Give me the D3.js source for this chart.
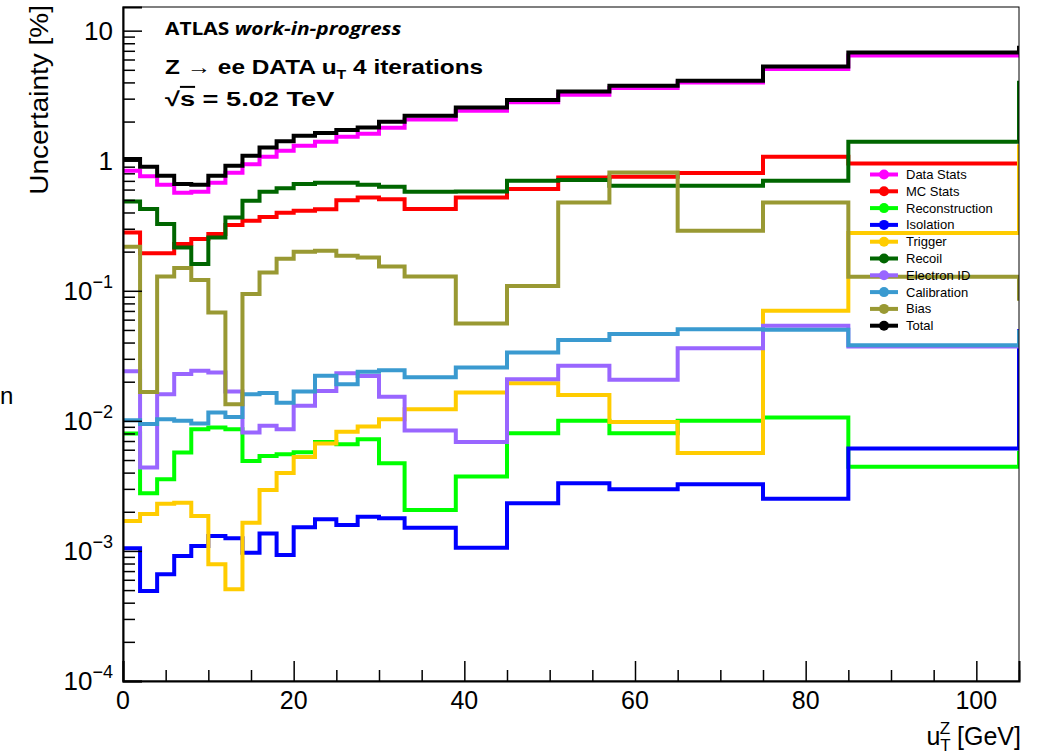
<!DOCTYPE html>
<html>
<head>
<meta charset="utf-8">
<script src="https://cdn.jsdelivr.net/npm/d3@7"></script>
<style>
  body { margin: 0; background: #fff; }
  text { font-family: "Liberation Sans", Arial, sans-serif; }
</style>
</head>
<body>
<div class="plot"></div>
<script>

// bin edges in u_T [GeV]; last value of every series is the overflow bin beyond 105
const binEdges = [0,2,4,6,8,10,12,14,16,18,20,22.5,25,27.5,30,33,39,45,51,57,65,75,85,105];

const dataStats      = [0.838,0.760,0.654,0.567,0.578,0.677,0.809,0.940,1.073,1.194,1.304,1.40,1.53,1.61,1.79,2.07,2.42,2.81,3.22,3.62,4.00,5.08,6.43,7.2];
const mcStats        = [0.281,0.194,0.194,0.229,0.250,0.273,0.320,0.345,0.369,0.398,0.413,0.424,0.497,0.522,0.506,0.425,0.522,0.606,0.744,0.753,0.804,1.073,0.953,0.95];
const reconstruction = [0.00798,0.00278,0.00356,0.0057,0.00863,0.00888,0.00863,0.00492,0.00538,0.00554,0.00573,0.00689,0.00662,0.00721,0.00473,0.00206,0.00373,0.00804,0.0100,0.00804,0.0100,0.0106,0.00443,0.0059];
const isolation      = [0.00105,0.000492,0.000662,0.000916,0.00109,0.0013,0.00125,0.00097,0.00136,0.00093,0.00152,0.00175,0.00158,0.00183,0.00178,0.00151,0.00106,0.00233,0.00332,0.00298,0.00326,0.00252,0.00612,0.0507];
const trigger        = [0.0017,0.00192,0.00231,0.00235,0.00186,0.00079,0.000508,0.00165,0.00294,0.00398,0.00528,0.00671,0.00823,0.00907,0.01028,0.0123,0.0165,0.0195,0.0158,0.0098,0.00565,0.0702,0.278,1.34];
const recoil         = [0.486,0.425,0.326,0.215,0.161,0.257,0.366,0.492,0.577,0.615,0.662,0.677,0.677,0.654,0.631,0.577,0.581,0.702,0.711,0.642,0.642,0.702,1.40,4.12];
const electronId     = [0.0241,0.00438,0.016,0.0229,0.0243,0.0235,0.0168,0.00813,0.00916,0.00863,0.01304,0.017,0.0232,0.0221,0.0153,0.00845,0.00689,0.0209,0.0265,0.0207,0.0362,0.0538,0.0373,0.037];
const calibration    = [0.0101,0.00944,0.0103,0.0100,0.00953,0.0116,0.0107,0.016,0.0164,0.0138,0.0168,0.0222,0.0191,0.0239,0.0245,0.0216,0.0257,0.0336,0.0418,0.0465,0.0507,0.0501,0.0382,0.05];
const bias           = [0.218,0.0167,0.129,0.1495,0.121,0.068,0.01344,0.0943,0.138,0.176,0.1995,0.203,0.186,0.180,0.154,0.129,0.056,0.109,0.478,0.813,0.289,0.478,0.128,0.0838];
const total          = [1.03,0.899,0.767,0.662,0.654,0.767,0.915,1.093,1.266,1.41,1.556,1.63,1.72,1.80,1.995,2.22,2.57,2.93,3.41,3.77,4.12,5.3,6.8,7.67];

const seriesNames  = ["Data Stats","MC Stats","Reconstruction","Isolation","Trigger","Recoil","Electron ID","Calibration","Bias","Total"];
const seriesColors = ["#ff00ff","#ff0000","#00ff00","#0000ff","#ffcc00","#006600","#9966ff","#3a9ad0","#999933","#000000"];

const xTicks = [0,20,40,60,80,100];
const yDecades = [-4,-3,-2,-1,0,1];


function createPlot(){

  const width = 1040;
  const height = 754;
  const frame = {left: 123, right: 1019, top: 7, bottom: 681};

  const seriesValues = [dataStats,mcStats,reconstruction,isolation,trigger,recoil,electronId,calibration,bias,total];
  const series = seriesNames.map((name,i) => ({name: name, color: seriesColors[i], values: seriesValues[i]}));

  const xScale = d3.scaleLinear()
    .domain([0,105])
    .range([frame.left, frame.right]);

  const yScale = d3.scaleLog()
    .domain([1e-4, 15.2])
    .range([frame.bottom, frame.top]);

  const svg = d3.select('.plot')
    .append('svg')
    .attr('width', width)
    .attr('height', height);

  svg.append('clipPath')
    .attr('id','clip')
    .append('rect')
    .attr('x', frame.left)
    .attr('y', frame.top)
    .attr('width', frame.right-frame.left)
    .attr('height', frame.bottom-frame.top);

  //Histograms as step lines
  const stepLine = d3.line()
    .x(d => xScale(d.x))
    .y(d => yScale(d.v))
    .curve(d3.curveStepAfter);

  const gHist = svg.append('g').attr('clip-path','url(#clip)');

  series.forEach(function(s){
    const pts = binEdges.map((e,i) => ({x: e, v: s.values[i]}));
    gHist.append('path')
      .attr('d', stepLine(pts))
      .attr('fill','none')
      .attr('stroke', s.color)
      .attr('stroke-width', 4)
      .attr('stroke-linejoin','miter');
  });

  //Frame
  svg.append('rect')
    .attr('x', frame.left)
    .attr('y', frame.top)
    .attr('width', frame.right-frame.left)
    .attr('height', frame.bottom-frame.top)
    .attr('fill','none')
    .attr('stroke','black')
    .attr('stroke-width',1);

  //Y axis, ticks pointing inside
  const yMinor = [];
  for (let e = -4; e <= 1; e++) {
    for (let m = 2; m <= 9; m++) {
      const v = m*Math.pow(10,e);
      if (v < 15.2) yMinor.push(v);
    }
  }
  svg.append('g')
    .attr('transform',`translate(${frame.left},0)`)
    .call(d3.axisLeft(yScale).tickValues(yMinor).tickSize(-12).tickFormat(''))
    .call(g => g.select('.domain').remove())
    .selectAll('line').attr('stroke','black').attr('stroke-width',1.5);

  svg.append('g')
    .attr('transform',`translate(${frame.left},0)`)
    .call(d3.axisLeft(yScale).tickValues(yDecades.map(e => Math.pow(10,e))).tickSize(-19).tickFormat(''))
    .call(g => g.select('.domain').attr('stroke-width',2))
    .selectAll('line').attr('stroke','black').attr('stroke-width',1.5);

  //Y tick labels with exponents
  yDecades.forEach(function(e){
    const t = svg.append('text')
      .attr('x', 113)
      .attr('y', yScale(Math.pow(10,e)) + 9)
      .attr('text-anchor','end')
      .attr('font-size', 26);
    if (e === 0) t.text('1');
    else if (e === 1) t.text('10');
    else {
      t.append('tspan').text('10');
      t.append('tspan').attr('font-size',18).attr('dy',-12).text('\u2212' + (-e));
    }
  });

  //X axis, ticks pointing up
  const xMinor = d3.range(0,106,5).filter(v => v % 20 !== 0);
  svg.append('g')
    .attr('transform',`translate(0,${frame.bottom})`)
    .call(d3.axisBottom(xScale).tickValues(xMinor).tickSize(-11).tickFormat(''))
    .call(g => g.select('.domain').remove())
    .selectAll('line').attr('stroke','black').attr('stroke-width',1.5);

  svg.append('g')
    .attr('transform',`translate(0,${frame.bottom})`)
    .call(d3.axisBottom(xScale).tickValues(xTicks).tickSize(-20).tickFormat(''))
    .call(g => g.select('.domain').attr('stroke-width',2))
    .selectAll('line').attr('stroke','black').attr('stroke-width',1.5);

  svg.selectAll('.xlabel')
    .data(xTicks)
    .enter()
    .append('text')
    .attr('class','xlabel')
    .attr('x', d => xScale(d))
    .attr('y', 709)
    .attr('text-anchor','middle')
    .attr('font-size', 25)
    .text(d => d);

  //Axis titles
  const xt = svg.append('text')
    .attr('x', 1021)
    .attr('y', 745)
    .attr('text-anchor','end')
    .attr('font-size', 25);
  xt.append('tspan').text('u');
  xt.append('tspan').attr('font-size',17).attr('dy',6).text('T');
  xt.append('tspan').attr('font-size',17).attr('dx',-11).attr('dy',-17).text('Z');
  xt.append('tspan').attr('dy',11).text(' [GeV]');

  svg.append('text')
    .attr('transform','translate(48,5) rotate(-90) scale(1.12,1)')
    .attr('x', 0)
    .attr('y', 0)
    .attr('text-anchor','end')
    .attr('font-size', 25)
    .text('Uncertainty [%]');

  //stray character cut at the left border of the original
  svg.append('text')
    .attr('x', 0)
    .attr('y', 404)
    .attr('font-size', 24)
    .text('n');

  //Labels in the top left corner (stretched sideways like the original)
  const atlas = svg.append('text')
    .attr('transform','translate(165,35) scale(1.23,1)')
    .attr('font-size', 17)
    .attr('font-weight','bold')
    .style('font-family','"Open Sans", sans-serif');
  atlas.append('tspan').text('ATLAS ');
  atlas.append('tspan').attr('font-style','italic').text('work-in-progress');

  const proc = svg.append('text')
    .attr('transform','translate(165,74) scale(1.22,1)')
    .attr('font-size', 20)
    .attr('font-weight','bold');
  proc.append('tspan').text('Z  \u2192 ee DATA u');
  proc.append('tspan').attr('font-size',13).attr('dy',5).text('T');
  proc.append('tspan').attr('dy',-5).text(' 4 iterations');

  const sqs = svg.append('text')
    .attr('transform','translate(165,106) scale(1.36,1)')
    .attr('font-size', 20)
    .attr('font-weight','bold');
  sqs.append('tspan').text('\u221A');
  sqs.append('tspan').style('text-decoration','overline').text('s');
  sqs.append('tspan').text(' = 5.02 TeV');

  //Legend, no box
  const legend = svg.selectAll('.legend')
    .data(series)
    .enter()
    .append('g')
    .attr('class','legend')
    .attr('transform', (d,i) => `translate(0,${174.5 + i*16.8})`);

  legend.append('line')
    .attr('x1', 870).attr('x2', 898)
    .attr('y1', 0).attr('y2', 0)
    .attr('stroke', d => d.color)
    .attr('stroke-width', 4);

  legend.append('circle')
    .attr('cx', 884).attr('cy', 0).attr('r', 5)
    .attr('fill', d => d.color);

  legend.append('text')
    .attr('x', 906)
    .attr('y', 4.5)
    .attr('font-size', 13)
    .text(d => d.name);
}

createPlot();
</script>
</body>
</html>
